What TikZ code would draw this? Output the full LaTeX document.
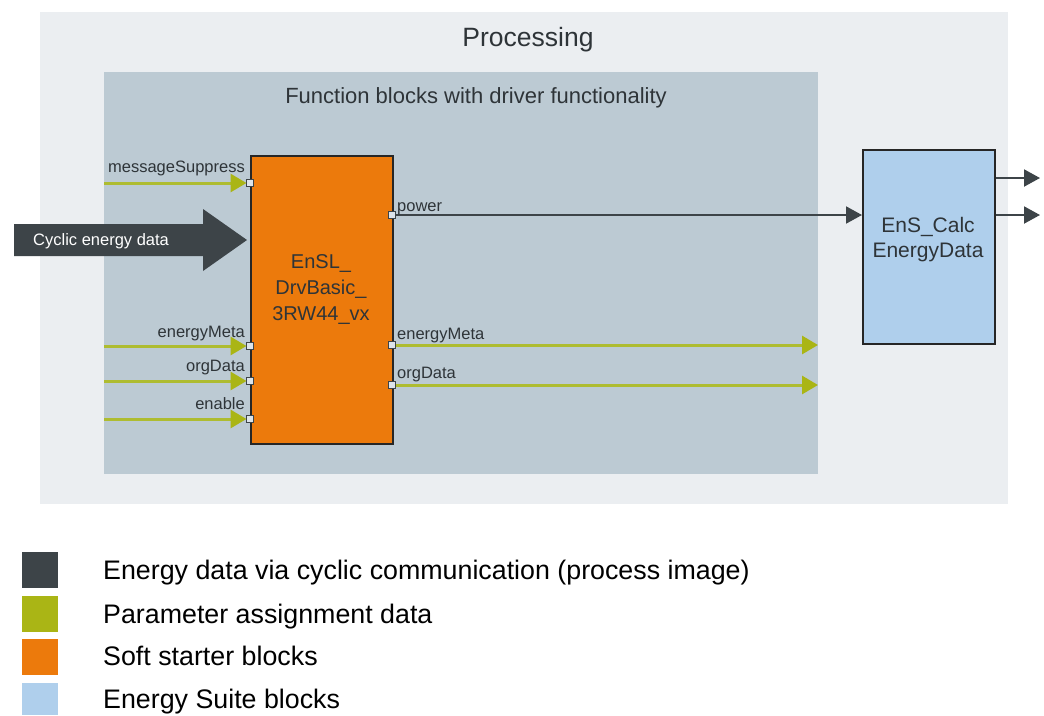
\documentclass[tikz,border=0pt]{standalone}
\usepackage{fontspec}
\setmainfont{Liberation Sans}
\usetikzlibrary{arrows.meta}
\definecolor{outerbg}{HTML}{EBEEF1}
\definecolor{innerbg}{HTML}{BCCAD3}
\definecolor{darkc}{HTML}{3D4448}
\definecolor{greenc}{HTML}{AAB515}
\definecolor{glinec}{HTML}{AEBC30}
\definecolor{orangec}{HTML}{EC7A0C}
\definecolor{bluec}{HTML}{AFCFEC}
\definecolor{portc}{HTML}{DDE4EA}
\definecolor{txtc}{HTML}{2E3438}
\begin{document}
\begin{tikzpicture}[x=1pt,y=-1pt,
  port/.style={draw=darkc, fill=portc, line width=1pt, minimum size=7pt, inner sep=0pt, outer sep=0pt},
  gline/.style={draw=glinec, line width=3pt, -{Triangle[length=16pt,width=18pt,color=greenc]}},
  dline/.style={draw=darkc, line width=2pt, -{Triangle[length=16pt,width=17pt]}},
  lbl/.style={font=\fontsize{16.5}{18}\selectfont, text=txtc, inner sep=0pt},
  legsq/.style={minimum size=36pt, inner sep=0pt, anchor=north west},
  legtxt/.style={font=\fontsize{26.8}{30}\selectfont, text=black, inner sep=0pt, anchor=base west},
  blockbox/.style={draw=black!85, line width=2pt, inner sep=0pt, anchor=north west}
]
\useasboundingbox (0,0) rectangle (1044,715);
\fill[white] (0,0) rectangle (1044,715);

% outer and inner areas
\node[fill=outerbg, minimum width=968pt, minimum height=492pt, inner sep=0pt, anchor=north west] (outer) at (40,12) {};
\node[font=\fontsize{26.5}{30}\selectfont, text=txtc, inner sep=0pt, anchor=base] (ptitle) at (528,46) {Processing};
\node[fill=innerbg, minimum width=714pt, minimum height=402pt, inner sep=0pt, anchor=north west] (inner) at (104,72) {};
\node[font=\fontsize{22}{24}\selectfont, text=txtc, inner sep=0pt, anchor=base] (ititle) at (476,103) {Function blocks with driver functionality};

% main blocks
\node[blockbox, fill=orangec, minimum width=142pt, minimum height=288pt] (fb) at (250,155) {};
\node[font=\fontsize{20}{26}\selectfont, text=txtc, align=center, inner sep=0pt, anchor=base] (fbtxt) at (321,320) {EnSL\_\\DrvBasic\_\\3RW44\_vx};
\node[blockbox, fill=bluec, minimum width=132pt, minimum height=194pt] (calc) at (862,149) {};
\node[font=\fontsize{21}{25}\selectfont, text=txtc, align=center, inner sep=0pt, anchor=base] (calctxt) at (928,257) {EnS\_Calc\\EnergyData};

% ports
\node[port] (pms) at (250,183) {};
\node[port] (pem) at (250,346) {};
\node[port] (pod) at (250,381) {};
\node[port] (pen) at (250,419) {};
\node[port] (ppw) at (392,215) {};
\node[port] (qem) at (392,345) {};
\node[port] (qod) at (392,385) {};

% free ends
\coordinate (ims) at (104,183);
\coordinate (iem) at (104,346);
\coordinate (iod) at (104,381);
\coordinate (ien) at (104,419);
\coordinate (oem) at (818,345);
\coordinate (ood) at (818,385);
\coordinate (oc1) at (1040,178);
\coordinate (oc2) at (1040,215);

% green inputs
\draw[gline] (ims) -- (pms.west);
\draw[gline] (iem) -- (pem.west);
\draw[gline] (iod) -- (pod.west);
\draw[gline] (ien) -- (pen.west);
% green outputs
\draw[gline] (qem.east) -- (oem);
\draw[gline] (qod.east) -- (ood);
% power
\draw[dline] (ppw.east) -- (calc.west |- ppw);
% calc outputs
\draw[dline] (calc.east |- oc1) -- (oc1);
\draw[dline] (calc.east |- oc2) -- (oc2);

% labels
\node[lbl, anchor=base east] (lms) at (245,172) {messageSuppress};
\node[lbl, anchor=base east] (lem) at (245,337) {energyMeta};
\node[lbl, anchor=base east] (lod) at (245,371) {orgData};
\node[lbl, anchor=base east] (len) at (245,409) {enable};
\node[lbl, anchor=base west] (lpw) at (397,211) {power};
\node[lbl, anchor=base west] (lqem) at (397,339) {energyMeta};
\node[lbl, anchor=base west] (lqod) at (397,378) {orgData};

% cyclic energy data arrow
\fill[darkc] (14,224) -- (203,224) -- (203,209) -- (247,240) -- (203,271) -- (203,256) -- (14,256) -- cycle;
\node[font=\fontsize{16.5}{18}\selectfont, text=white, inner sep=0pt, anchor=base west] (cyc) at (33,245) {Cyclic energy data};

% legend
\node[legsq, fill=darkc] (sq1) at (22,552) {};
\node[legsq, fill=greenc] (sq2) at (22,596) {};
\node[legsq, fill=orangec] (sq3) at (22,639) {};
\node[legsq, fill=bluec, minimum height=32pt] (sq4) at (22,683) {};
\node[legtxt] (lg1) at (103,579) {Energy data via cyclic communication (process image)};
\node[legtxt] (lg2) at (103,623) {Parameter assignment data};
\node[legtxt] (lg3) at (103,665) {Soft starter blocks};
\node[legtxt] (lg4) at (103,708) {Energy Suite blocks};
\end{tikzpicture}
\end{document}
